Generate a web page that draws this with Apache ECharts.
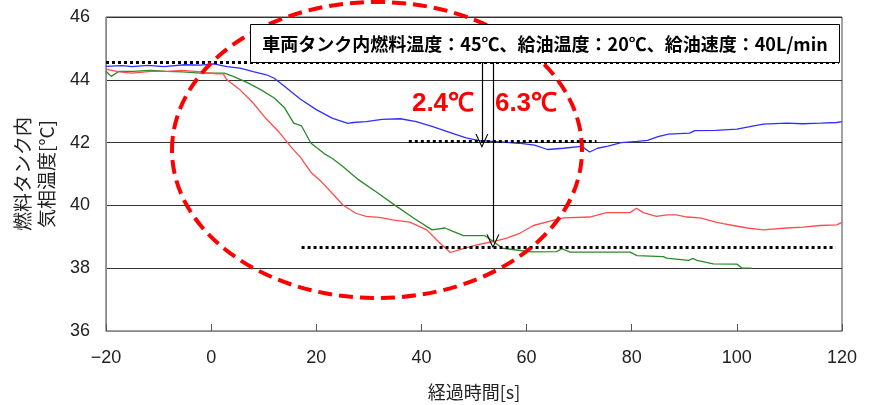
<!DOCTYPE html>
<html>
<head>
<meta charset="utf-8">
<script src="https://cdn.jsdelivr.net/npm/echarts@6/dist/echarts.min.js"></script>
<style>
  html, body { margin: 0; padding: 0; background: #fff; }
  #chart { width: 875px; height: 405px; }
</style>
</head>
<body>
<div id="chart"></div>
<script>
// Axis ranges and tick steps
const xTicks = [-20, 0, 20, 40, 60, 80, 100, 120];
const yTicks = [36, 38, 40, 42, 44, 46];

// Vapour temperature in the fuel tank, three runs (time [s], temperature [°C])
const blueTime = [-20, -17, -15, -12, -9, -5, -2, 0.5, 3, 5.5, 8, 10.5, 12, 14, 17, 20, 23, 26, 27, 29.5, 32.5, 36, 39, 42, 45.5, 48.5, 51, 55, 58.5, 61.5, 64, 67, 70.5, 72, 73.5, 75.5, 78, 81, 83, 85, 87, 91, 92, 96, 100, 102.5, 105, 109.5, 112.5, 116, 119, 120];
const blueTemp = [44.43, 44.45, 44.42, 44.46, 44.42, 44.48, 44.47, 44.51, 44.42, 44.37, 44.26, 44.16, 44.05, 43.79, 43.38, 43.05, 42.78, 42.61, 42.64, 42.67, 42.74, 42.76, 42.67, 42.52, 42.32, 42.15, 42.06, 42.02, 41.98, 41.92, 41.78, 41.82, 41.88, 41.70, 41.82, 41.89, 42.0, 42.04, 42.07, 42.19, 42.27, 42.30, 42.38, 42.39, 42.43, 42.51, 42.59, 42.62, 42.60, 42.62, 42.64, 42.67];

const greenTime = [-20, -19, -17.5, -15, -11.5, -8.5, -5.5, -2, 2.5, 4.2, 7, 9.5, 12, 14, 15.7, 17.2, 19, 21.5, 23, 25, 28, 31.5, 35, 38.5, 42, 44.5, 46, 48, 52, 53.7, 55.3, 58, 61, 65.7, 66.7, 68.3, 79.7, 81, 86, 86.6, 90.8, 91.7, 92.4, 95.5, 100, 101, 102.8];
const greenTemp = [44.27, 44.11, 44.27, 44.27, 44.30, 44.27, 44.25, 44.21, 44.21, 44.11, 43.90, 43.68, 43.42, 43.10, 42.62, 42.53, 41.98, 41.65, 41.50, 41.25, 40.82, 40.42, 40.00, 39.60, 39.22, 39.28, 39.17, 39.04, 39.04, 38.85, 38.64, 38.58, 38.52, 38.53, 38.62, 38.51, 38.51, 38.40, 38.37, 38.32, 38.25, 38.31, 38.25, 38.14, 38.13, 38.00, 38.00];

const redTime = [-20, -17.5, -15, -11.5, -8.5, -5.5, -2, 1, 2.3, 3, 5.5, 8, 10.5, 13, 15.5, 17, 19, 21, 23.5, 25, 27.5, 29.5, 32, 34.5, 37.8, 41, 43.5, 45.5, 47.3, 50.5, 53.7, 56.2, 58.8, 61.3, 65, 67, 72, 75.2, 79.7, 80.9, 82.2, 84.7, 86.7, 88.5, 90.5, 93, 96.2, 97.4, 99.3, 102, 105, 109.5, 112.6, 115.8, 119, 120];
const redTemp = [44.34, 44.25, 44.21, 44.27, 44.27, 44.30, 44.25, 44.19, 44.19, 44.00, 43.68, 43.26, 42.75, 42.32, 41.80, 41.53, 41.05, 40.75, 40.30, 40.02, 39.75, 39.65, 39.62, 39.54, 39.47, 39.22, 38.80, 38.50, 38.59, 38.74, 38.85, 38.96, 39.12, 39.36, 39.52, 39.60, 39.63, 39.77, 39.77, 39.91, 39.77, 39.65, 39.70, 39.70, 39.63, 39.60, 39.46, 39.42, 39.36, 39.28, 39.22, 39.28, 39.31, 39.36, 39.38, 39.46];

// Reference levels and drop markers
const startLevel = 44.55;
const blueLevel = 42.05;
const lowLevel = 38.68;
const blueDropAt = 51.5;
const redDropAt = 53.6;
const redDropEnd = 38.85;

const conditionText = '車両タンク内燃料温度：45℃、給油温度：20℃、給油速度：40L/min';
const dropLabels = ['2.4℃', '6.3℃'];

const zip = (t, v) => t.map((x, i) => [x, v[i]]);

const tickFont = "'Liberation Sans', Arial, sans-serif";
const jpFont = "'Noto Sans CJK JP', sans-serif";
const chevron = 'path://M0,14 L6.5,0 L13,14 L11.8,14 L6.5,2.6 L1.2,14 Z';

const chart = echarts.init(document.getElementById('chart'), null, { renderer: 'canvas' });

const dotted = { color: '#000', width: 3, type: [3, 3] };
const arrowStyle = { color: '#000', width: 1.2, type: 'solid' };

chart.setOption({
  animation: false,
  backgroundColor: '#fff',
  grid: {
    left: 106, right: 33, top: 17, bottom: 74,
    outerBoundsMode: 'none',
    containLabel: false,
    show: true, borderColor: '#444', borderWidth: 1
  },
  xAxis: {
    type: 'value',
    min: xTicks[0], max: xTicks[xTicks.length - 1], interval: xTicks[1] - xTicks[0],
    name: '経過時間[s]',
    nameLocation: 'middle',
    nameGap: 52,
    nameTextStyle: { fontSize: 18, color: '#222', fontFamily: jpFont },
    axisLine: { onZero: false, lineStyle: { color: '#888', width: 1 } },
    axisTick: { inside: true, length: 7, lineStyle: { color: '#555' } },
    splitLine: { show: false },
    axisLabel: {
      fontSize: 18, color: '#222', margin: 18, fontFamily: tickFont,
      formatter: v => String(v).replace('-', '−')
    }
  },
  yAxis: {
    type: 'value',
    min: yTicks[0], max: yTicks[yTicks.length - 1], interval: yTicks[1] - yTicks[0],
    name: '燃料タンク内\n気相温度[°C]',
    nameLocation: 'middle',
    nameRotate: 90,
    nameGap: 46,
    nameTextStyle: { fontSize: 19, lineHeight: 24, color: '#222', fontFamily: jpFont },
    axisLine: { show: true, onZero: false, lineStyle: { color: '#888', width: 1 } },
    axisTick: { show: false },
    splitLine: { show: true, lineStyle: { color: '#333', width: 1 } },
    axisLabel: { fontSize: 18, color: '#222', margin: 16, fontFamily: tickFont }
  },
  series: [
    {
      type: 'line', name: 'blue', data: zip(blueTime, blueTemp),
      showSymbol: false, lineStyle: { color: '#2f2fff', width: 1.3 }, z: 3,
      markLine: {
        silent: true, animation: false, symbol: 'none',
        label: { show: false },
        lineStyle: dotted,
        data: [
          [{ coord: [xTicks[0], startLevel] }, { coord: [119.4, startLevel] }],
          [{ coord: [37.6, blueLevel] }, { coord: [73.3, blueLevel] }],
          [{ coord: [17.2, lowLevel] }, { coord: [118.8, lowLevel] }]
        ]
      }
    },
    {
      type: 'line', name: 'green', data: zip(greenTime, greenTemp),
      showSymbol: false, lineStyle: { color: '#2b8a2b', width: 1.3 }, z: 3
    },
    {
      type: 'line', name: 'red', data: zip(redTime, redTemp),
      showSymbol: false, lineStyle: { color: '#ff4d4d', width: 1.3 }, z: 3,
      markLine: {
        silent: true, animation: false,
        symbol: ['none', chevron], symbolSize: [13, 14],
        label: { show: false },
        lineStyle: arrowStyle,
        data: [
          [{ coord: [blueDropAt, startLevel] }, { coord: [blueDropAt, blueLevel] }],
          [{ coord: [redDropAt, startLevel] }, { coord: [redDropAt, redDropEnd] }]
        ]
      }
    }
  ],
  graphic: [
    {
      type: 'ellipse', z: 50, silent: true,
      shape: { cx: 377, cy: 150, rx: 205, ry: 148 },
      style: { fill: null, stroke: '#ff0000', lineWidth: 4, lineDash: [14, 7] }
    },
    {
      type: 'rect', z: 60, silent: true,
      shape: { x: 250.5, y: 24.5, width: 589, height: 38 },
      style: { fill: '#fff', stroke: '#000', lineWidth: 1 }
    },
    {
      type: 'text', z: 61, silent: true,
      x: 545, y: 44,
      style: {
        text: conditionText, fill: '#000',
        font: "bold 18px 'Noto Sans CJK JP', sans-serif",
        align: 'center', verticalAlign: 'middle'
      }
    },
    {
      type: 'text', z: 61, silent: true,
      x: 443, y: 104,
      style: {
        text: dropLabels[0], fill: '#ff0000',
        font: "bold 26px 'Liberation Sans Narrow', 'Liberation Sans', sans-serif",
        align: 'center', verticalAlign: 'middle'
      }
    },
    {
      type: 'text', z: 61, silent: true,
      x: 526, y: 104,
      style: {
        text: dropLabels[1], fill: '#ff0000',
        font: "bold 26px 'Liberation Sans Narrow', 'Liberation Sans', sans-serif",
        align: 'center', verticalAlign: 'middle'
      }
    }
  ]
});
</script>
</body>
</html>
